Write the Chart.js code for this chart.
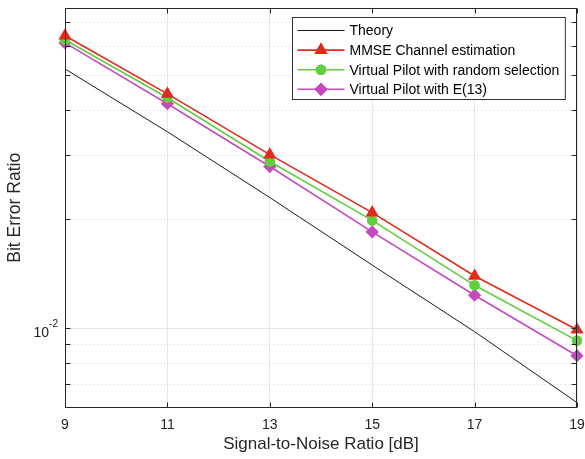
<!DOCTYPE html>
<html>
<head>
<meta charset="utf-8">
<script src="https://cdn.jsdelivr.net/npm/chart.js@4/dist/chart.umd.min.js"></script>
<style>
html, body { margin: 0; padding: 0; background: #fff; }
#wrap { width: 585px; height: 459px; }
</style>
</head>
<body>
<div id="wrap"><canvas id="grafico"></canvas></div>
<script>
// datos
var snr = [9, 11, 13, 15, 17, 19];
var berTeoria = [0.0519, 0.0348, 0.0229, 0.0149, 0.00975, 0.00621];
var berMmse = [0.0641, 0.0443, 0.0301, 0.0208, 0.0139, 0.00987];
var berAleatorio = [0.0625, 0.0432, 0.0288, 0.0198, 0.0131, 0.00921];
var berE13 = [0.0613, 0.0416, 0.0279, 0.0184, 0.0123, 0.00837];

var etiquetas = ['Theory', 'MMSE Channel estimation', 'Virtual Pilot with random selection', 'Virtual Pilot with E(13)'];
var xTicks = [9, 11, 13, 15, 17, 19];
var yTicks = [0.007, 0.008, 0.009, 0.01, 0.02, 0.03, 0.04, 0.05, 0.06, 0.07];
var yMayores = [0.01];

var fuente = '"Liberation Sans", Arial, Helvetica, sans-serif';
var colorEje = '#262626';

function puntos(serie) {
    return snr.map(function (x, i) { return { x: x, y: serie[i] }; });
}

function sinRelleno(scale) {
    scale.paddingLeft = 0;
    scale.paddingRight = 0;
    scale.paddingTop = 0;
    scale.paddingBottom = 0;
}

// rejilla horizontal, caja, marcas hacia dentro y leyenda estilo MATLAB
var estiloMatlab = {
    id: 'estiloMatlab',
    beforeDatasetsDraw: function (chart) {
        var ctx = chart.ctx, a = chart.chartArea, y = chart.scales.y;
        ctx.save();
        ctx.lineWidth = 1;
        yTicks.forEach(function (v) {
            var py = Math.round(y.getPixelForValue(v)) + 0.5;
            if (yMayores.indexOf(v) >= 0) {
                ctx.setLineDash([]);
                ctx.strokeStyle = '#e6e6e6';
            } else {
                ctx.setLineDash([1, 3]);
                ctx.strokeStyle = '#d0d0d0';
            }
            ctx.beginPath();
            ctx.moveTo(a.left, py);
            ctx.lineTo(a.right, py);
            ctx.stroke();
        });
        ctx.restore();
    },
    afterDraw: function (chart) {
        var ctx = chart.ctx, a = chart.chartArea, x = chart.scales.x, y = chart.scales.y;
        ctx.save();
        ctx.strokeStyle = colorEje;
        ctx.lineWidth = 1;
        ctx.setLineDash([]);
        var l = Math.round(a.left) + 0.5, r = Math.round(a.right) - 0.5;
        var t = Math.round(a.top) + 0.5, b = Math.round(a.bottom) - 0.5;
        ctx.strokeRect(l, t, r - l, b - t);
        ctx.beginPath();
        xTicks.forEach(function (v) {
            var px = Math.round(x.getPixelForValue(v)) + 0.5;
            ctx.moveTo(px, b); ctx.lineTo(px, b - 5);
            ctx.moveTo(px, t); ctx.lineTo(px, t + 5);
        });
        yTicks.forEach(function (v) {
            var py = Math.round(y.getPixelForValue(v)) + 0.5;
            ctx.moveTo(l, py); ctx.lineTo(l + 5, py);
            ctx.moveTo(r, py); ctx.lineTo(r - 5, py);
        });
        ctx.stroke();

        // etiqueta 10^-2
        ctx.fillStyle = colorEje;
        ctx.textBaseline = 'alphabetic';
        var py = y.getPixelForValue(0.01);
        ctx.font = '10px ' + fuente;
        ctx.textAlign = 'right';
        var wSup = ctx.measureText('-2').width;
        ctx.fillText('-2', a.left - 7, py - 1);
        ctx.font = '14px ' + fuente;
        ctx.fillText('10', a.left - 7 - wSup, py + 9);

        // leyenda
        ctx.font = '14px ' + fuente;
        var maxW = 0;
        etiquetas.forEach(function (e) { maxW = Math.max(maxW, ctx.measureText(e).width); });
        var largo = 47, fila = 19.6;
        var ancho = 5 + largo + 5 + maxW + 6;
        var alto = 82;
        var bx = Math.round(a.right - 12 - ancho) + 0.5, by = Math.round(a.top + 9.5) + 0.5;
        ctx.fillStyle = '#ffffff';
        ctx.fillRect(bx, by, ancho, alto);
        ctx.strokeStyle = '#333333';
        ctx.strokeRect(bx, by, ancho, alto);
        chart.data.datasets.forEach(function (ds, i) {
            var cy = by + 13 + i * fila;
            ctx.strokeStyle = ds.borderColor;
            ctx.lineWidth = ds.borderWidth;
            ctx.beginPath();
            ctx.moveTo(bx + 5, cy);
            ctx.lineTo(bx + 5 + largo, cy);
            ctx.stroke();
            if (ds.pointRadius > 0) {
                Chart.helpers.drawPoint(ctx, {
                    pointStyle: ds.pointStyle,
                    radius: ds.pointRadius,
                    rotation: 0,
                    borderWidth: 1
                }, bx + 5 + largo / 2, cy);
                ctx.fillStyle = ds.pointBackgroundColor;
                ctx.strokeStyle = ds.pointBorderColor;
                ctx.fill();
                ctx.stroke();
            }
            ctx.fillStyle = '#000000';
            ctx.textAlign = 'left';
            ctx.textBaseline = 'middle';
            ctx.fillText(etiquetas[i], bx + 5 + largo + 5, cy + 1);
        });
        ctx.restore();
    }
};

var ctx = document.getElementById('grafico');
var grafico = new Chart(ctx, {
    type: 'line',
    data: {
        datasets: [{
            label: etiquetas[0],
            data: puntos(berTeoria),
            borderColor: '#1a1a1a',
            borderWidth: 1,
            pointRadius: 0,
            clip: false
        }, {
            label: etiquetas[1],
            data: puntos(berMmse),
            borderColor: 'rgb(226, 42, 30)',
            backgroundColor: 'rgb(226, 42, 30)',
            pointBackgroundColor: 'rgb(226, 42, 30)',
            pointBorderColor: 'rgb(226, 42, 30)',
            borderWidth: 1.6,
            pointStyle: 'triangle',
            pointRadius: 6,
            clip: false
        }, {
            label: etiquetas[2],
            data: puntos(berAleatorio),
            borderColor: 'rgb(98, 205, 64)',
            backgroundColor: 'rgb(98, 205, 64)',
            pointBackgroundColor: 'rgb(98, 205, 64)',
            pointBorderColor: 'rgb(98, 205, 64)',
            borderWidth: 1.6,
            pointStyle: 'circle',
            pointRadius: 4.5,
            clip: false
        }, {
            label: etiquetas[3],
            data: puntos(berE13),
            borderColor: 'rgb(196, 74, 190)',
            backgroundColor: 'rgb(196, 74, 190)',
            pointBackgroundColor: 'rgb(196, 74, 190)',
            pointBorderColor: 'rgb(196, 74, 190)',
            borderWidth: 1.6,
            pointStyle: 'rectRot',
            pointRadius: 5.5,
            clip: false
        }]
    },
    options: {
        responsive: true,
        maintainAspectRatio: false,
        animation: false,
        layout: { padding: { top: 5, right: 8, left: 0, bottom: 0 } },
        plugins: {
            legend: { display: false },
            tooltip: { enabled: false }
        },
        scales: {
            x: {
                type: 'linear',
                min: 9,
                max: 19,
                afterBuildTicks: function (scale) {
                    scale.ticks = xTicks.map(function (v) { return { value: v }; });
                },
                afterFit: function (scale) {
                    scale.height = 51;
                    sinRelleno(scale);
                },
                grid: { color: '#e6e6e6', drawTicks: false },
                border: { display: false },
                ticks: {
                    color: colorEje,
                    padding: 9,
                    maxRotation: 0,
                    font: { family: fuente, size: 14 }
                },
                title: {
                    display: true,
                    text: 'Signal-to-Noise Ratio [dB]',
                    color: colorEje,
                    font: { family: fuente, size: 17 },
                    padding: { top: 2, bottom: 4 }
                }
            },
            y: {
                type: 'logarithmic',
                min: 0.006,
                max: 0.0767,
                afterBuildTicks: function (scale) {
                    scale.ticks = yTicks.map(function (v) { return { value: v }; });
                },
                afterFit: function (scale) {
                    scale.width = 65;
                    sinRelleno(scale);
                },
                grid: { display: false },
                border: { display: false },
                ticks: {
                    callback: function () { return ''; }
                },
                title: {
                    display: true,
                    text: 'Bit Error Ratio',
                    color: colorEje,
                    font: { family: fuente, size: 17.5 },
                    padding: { top: 5, bottom: 0 }
                }
            }
        }
    },
    plugins: [estiloMatlab]
});
</script>
</body>
</html>
